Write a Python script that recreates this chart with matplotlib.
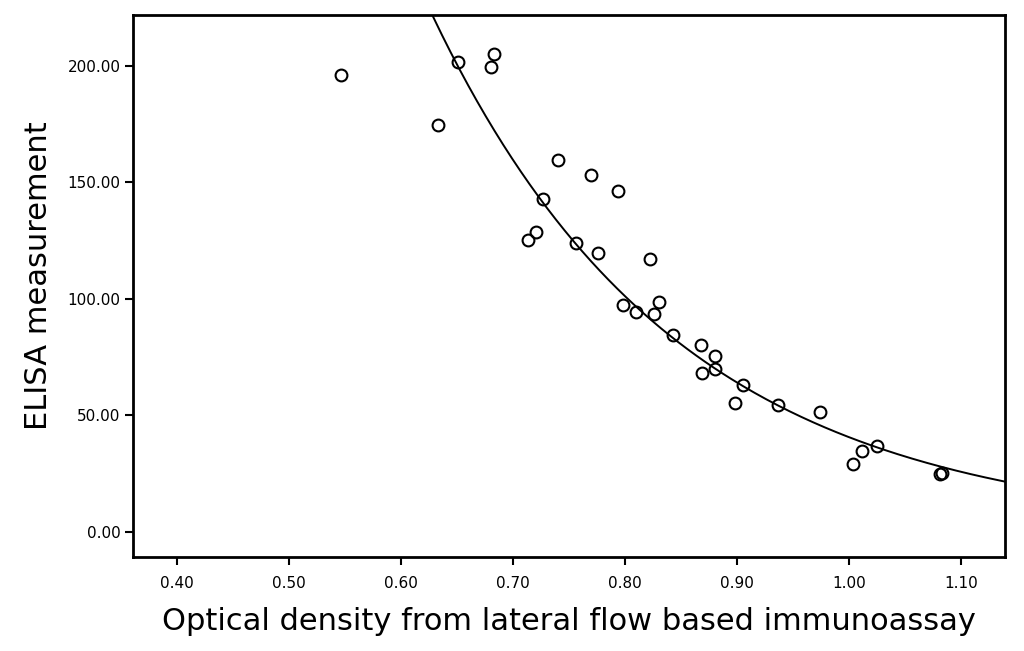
import numpy as np
import matplotlib
matplotlib.use("Agg")
import matplotlib.pyplot as plt

od = [0.546, 0.651, 0.633, 0.683, 0.680, 0.740, 0.770, 0.794, 0.7265, 0.7205,
      0.7134, 0.756, 0.776, 0.8223, 0.798, 0.810, 0.8306, 0.826, 0.8426, 0.8679,
      0.880, 0.8688, 0.880, 0.9057, 0.898, 0.9363, 0.9741, 1.025, 1.0113, 1.0038,
      1.0813, 1.0827]
elisa = [196.1, 201.5, 174.7, 205.0, 199.4, 159.4, 153.2, 146.1, 142.7, 128.8,
         125.2, 124.0, 119.7, 116.9, 97.3, 94.3, 98.6, 93.4, 84.3, 80.3,
         75.4, 68.1, 69.8, 62.8, 55.4, 54.5, 51.5, 36.8, 34.5, 29.2,
         24.6, 25.0]

# exponential fit y = a * exp(b * x)
fit_a = 3903.0
fit_b = -4.567

x_ticks = [0.40, 0.50, 0.60, 0.70, 0.80, 0.90, 1.00, 1.10]
y_ticks = [0, 50, 100, 150, 200]

fig = plt.figure(figsize=(10.24, 6.51), dpi=100)
ax = fig.add_axes([0.1299, 0.1444, 0.8515, 0.8326])

xs = np.linspace(0.36, 1.14, 300)
ax.plot(xs, fit_a * np.exp(fit_b * xs), color="black", lw=1.4)
ax.plot(od, elisa, "o", mfc="none", mec="black", mew=1.5, ms=8.5)

ax.set_xlim(0.3607, 1.1393)
ax.set_ylim(-10.9, 221.8)
ax.set_xticks(x_ticks)
ax.set_xticklabels([f"{v:.2f}" for v in x_ticks], fontsize=11)
ax.set_yticks(y_ticks)
ax.set_yticklabels([f"{v:.2f}" for v in y_ticks], fontsize=11)
ax.tick_params(direction="out", length=6, width=1.5, colors="black")
ax.tick_params(axis="x", pad=8)
ax.tick_params(axis="y", pad=3)
for s in ax.spines.values():
    s.set_linewidth(2)

ax.set_xlabel("Optical density from lateral flow based immunoassay",
              fontsize=22, labelpad=11)
ax.set_ylabel("ELISA measurement", fontsize=22)
ax.yaxis.set_label_coords(-0.092, 0.52)

fig.savefig("out.png", dpi=100)
